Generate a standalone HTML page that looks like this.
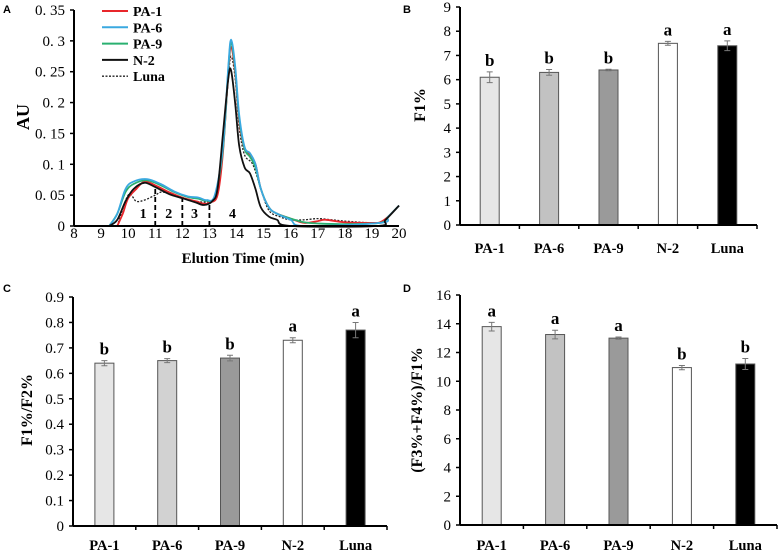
<!DOCTYPE html>
<html><head><meta charset="utf-8"><style>
body{margin:0;background:#fff;width:780px;height:551px;overflow:hidden}
svg text{font-family:"Liberation Serif",serif}
</style></head><body>
<svg id="fig" width="780" height="551" viewBox="0 0 780 551" xmlns="http://www.w3.org/2000/svg">
<g id="pa"></g>
<g id="pb"></g>
<g id="pc"></g>
<g id="pd"></g>
</svg>
<script>
const NS="http://www.w3.org/2000/svg";
// ---- Panel A data ----
const seriesNames=["PA-1","PA-6","PA-9","N-2","Luna"];
const seriesColors=["#e8262b","#3aa9e0","#2ab070","#111111","#222222"];
const pa1T=[9.6,9.8,10.0,10.3,10.6,11.0,11.5,12.0,12.5,12.8,13.0,13.3,13.5,13.7,13.8,13.95,14.1,14.3,14.5,14.7,14.9,15.2,15.5,16,16.5,17,17.3,18,19,19.3,19.6,20];
const pa1V=[0,0.02,0.045,0.06,0.072,0.066,0.055,0.046,0.04,0.036,0.038,0.05,0.12,0.25,0.29,0.25,0.17,0.125,0.115,0.1,0.06,0.03,0.02,0.012,0.005,0.008,0.01,0.006,0.005,0.006,0.015,0.033];
const pa6T=[9.3,9.6,9.9,10.2,10.7,11.2,11.7,12.2,12.6,12.9,13.2,13.5,13.7,13.8,13.95,14.1,14.3,14.5,14.7,14.9,15.2,15.5,16,16.5,19.3,19.6,20];
const pa6V=[0,0.02,0.06,0.072,0.076,0.068,0.056,0.048,0.046,0.042,0.05,0.13,0.26,0.302,0.26,0.18,0.128,0.118,0.1,0.06,0.03,0.02,0.01,0,0.005,0.015,0.033];
const pa9T=[9.3,9.6,9.9,10.2,10.7,11.2,11.7,12.2,12.6,12.9,13.2,13.5,13.7,13.8,13.95,14.1,14.3,14.5,14.7,14.9,15.2,15.5,16,16.5,17,18,19.3,19.6,20];
const pa9V=[0,0.02,0.055,0.068,0.074,0.066,0.055,0.047,0.044,0.041,0.048,0.125,0.255,0.297,0.255,0.175,0.125,0.112,0.095,0.06,0.03,0.02,0.012,0.006,0.004,0.003,0.005,0.015,0.033];
const n2T=[9.3,9.6,9.9,10.2,10.6,11,11.5,12,12.5,12.8,13.1,13.3,13.5,13.7,13.8,13.95,14.1,14.3,14.5,14.7,14.9,15.2,15.5,16,19.2,19.5,20];
const n2V=[0,0.01,0.04,0.06,0.07,0.063,0.052,0.045,0.038,0.034,0.04,0.06,0.15,0.24,0.252,0.2,0.13,0.095,0.085,0.06,0.03,0.015,0.01,0,0,0.01,0.033];
const lunaT=[9.6,10,10.3,10.6,11.0,11.3,12,12.5,13,13.3,13.5,13.7,13.8,13.95,14.1,14.3,14.6,14.9,15.2,15.6,16,16.5,17,17.5,18,19,19.3,19.6,20];
const lunaV=[0,0.05,0.04,0.042,0.05,0.055,0.046,0.04,0.04,0.055,0.13,0.24,0.275,0.24,0.16,0.115,0.1,0.06,0.025,0.015,0.01,0.01,0.012,0.01,0.008,0.005,0.006,0.015,0.033];
const seriesT=[pa1T,pa6T,pa9T,n2T,lunaT];
const seriesV=[pa1V,pa6V,pa9V,n2V,lunaV];
const aXTicks=[8,9,10,11,12,13,14,15,16,17,18,19,20];
const aYTicks=[0,0.05,0.1,0.15,0.2,0.25,0.3,0.35];
const aYLabels=["0","0. 05","0. 1","0. 15","0. 2","0. 25","0. 3","0. 35"];
const fracCuts=[11,12,13];
const fracCutTop=[0.062,0.048,0.040];
const fracLabels=["1","2","3","4"];
const fracLabelT=[10.55,11.5,12.45,13.85];
// ---- Bar data ----
const cats=["PA-1","PA-6","PA-9","N-2","Luna"];
const bVals=[6.1,6.3,6.4,7.5,7.4];
const bErr=[0.22,0.12,0.03,0.08,0.2];
const bSig=["b","b","b","a","a"];
const bTicks=[0,1,2,3,4,5,6,7,8,9];
const cVals=[0.64,0.65,0.66,0.73,0.77];
const cErr=[0.01,0.008,0.011,0.01,0.03];
const cSig=["b","b","b","a","a"];
const cTicks=[0,0.1,0.2,0.3,0.4,0.5,0.6,0.7,0.8,0.9];
const dVals=[13.8,13.25,13.0,10.95,11.2];
const dErr=[0.3,0.3,0.08,0.15,0.38];
const dSig=["a","a","a","b","b"];
const dTicks=[0,2,4,6,8,10,12,14,16];

function el(tag,attrs,parent,text){const e=document.createElementNS(NS,tag);for(const k in attrs)e.setAttribute(k,attrs[k]);if(text!==undefined)e.textContent=text;parent.appendChild(e);return e;}

function panelLetter(g,x,y,t){const e=el("text",{x:x,y:y,"font-size":11,"font-weight":"bold",style:"font-family:'Liberation Sans',sans-serif"},g,t);

}

// ---- Panel A ----
(function(){
const g=document.getElementById("pa");
const X0=74,X1=399,Y0=226,Y1=10;
const xs=t=>X0+(t-8)/12*(X1-X0);
const ys=v=>Y0-v/0.35*(Y0-Y1);
panelLetter(g,3,13,"A");
aYTicks.forEach((v,i)=>{
 const t=el("line",{x1:X0-4,x2:X0,y1:ys(v),y2:ys(v),stroke:"#000","stroke-width":1.5},g);
 
 const l=el("text",{x:X0-9,y:ys(v)+5,"text-anchor":"end","font-size":15},g,aYLabels[i]);
 
});
aXTicks.forEach(v=>{
 const l=el("text",{x:xs(v),y:238,"text-anchor":"middle","font-size":15},g,String(v));
 
});
fracCuts.forEach((c,i)=>{
 const d=el("line",{x1:xs(c),x2:xs(c),y1:Y0,y2:ys(fracCutTop[i]),stroke:"#000","stroke-width":1.8,"stroke-dasharray":"5,3"},g);
 
});
fracLabels.forEach((f,i)=>{
 const l=el("text",{x:xs(fracLabelT[i]),y:218,"text-anchor":"middle","font-size":14,"font-weight":"bold"},g,f);
 
});
function pathFor(T,V){
 const p=T.map((t,i)=>[xs(t),ys(V[i])]);
 let d="M"+p[0][0].toFixed(1)+","+p[0][1].toFixed(1);
 for(let i=0;i<p.length-1;i++){
  const p0=p[i-1]||p[i],p1=p[i],p2=p[i+1],p3=p[i+2]||p2;
  const c1=[p1[0]+(p2[0]-p0[0])/6,p1[1]+(p2[1]-p0[1])/6];
  const c2=[p2[0]-(p3[0]-p1[0])/6,p2[1]-(p3[1]-p1[1])/6];
  d+=" C"+c1.map(n=>n.toFixed(1))+" "+c2.map(n=>n.toFixed(1))+" "+p2.map(n=>n.toFixed(1));
 }
 return d;
}
[4,0,2,1,3].forEach(i=>{
 const a={d:pathFor(seriesT[i],seriesV[i]),fill:"none",stroke:seriesColors[i],"stroke-width":i===4?1.3:1.8};
 if(i===4)a["stroke-dasharray"]="2,1.5";
 const s=el("path",a,g);
 
 
});
el("line",{x1:X0,x2:X1,y1:Y0,y2:Y0,stroke:"#000","stroke-width":2},g);
el("line",{x1:X0,x2:X0,y1:Y1,y2:Y0,stroke:"#000","stroke-width":2},g);
seriesNames.forEach((n,i)=>{
 const y=11+i*16.3;
 const a={x1:102,x2:128,y1:y,y2:y,stroke:seriesColors[i],"stroke-width":i===4?1.3:2};
 if(i===4)a["stroke-dasharray"]="2,1.5";
 const ln=el("line",a,g);
 
 const t=el("text",{x:133,y:y+5,"font-size":14,"font-weight":"bold"},g,n);
 
});
const yt=el("text",{x:0,y:0,"font-size":18,"font-weight":"bold","text-anchor":"middle",transform:"translate(29,117) rotate(-90)"},g,"AU");

const xt=el("text",{x:243,y:263,"font-size":15,"font-weight":"bold","text-anchor":"middle"},g,"Elution Time (min)");

})();

// ---- Bar charts ----
const fills=["#e6e6e6","#c2c2c2","#9a9a9a","#ffffff","#000000"];
function barChart(id,letter,lx,ly,X0,X1,Y0,Y1,ymax,ticks,vals,errs,sigs,title,tx,ty,labY,fills2){
 const g=document.getElementById(id);
 panelLetter(g,lx,ly,letter);
 const ys=v=>Y0-v/ymax*(Y0-Y1);
 const cw=(X1-X0)/cats.length;
 ticks.forEach(v=>{
  const t=el("line",{x1:X0-4,x2:X0,y1:ys(v),y2:ys(v),stroke:"#000","stroke-width":1.5},g);
  
  const l=el("text",{x:X0-9,y:ys(v)+5,"text-anchor":"end","font-size":15},g,String(v));
  
 });
 for(let i=1;i<=cats.length;i++){
  const t=el("line",{x1:X0+i*cw,x2:X0+i*cw,y1:Y0,y2:Y0+4,stroke:"#000","stroke-width":1.5},g);
  
 }
 cats.forEach((c,i)=>{
  const cx=X0+(i+0.5)*cw, bw=19;
  const r=el("rect",{x:cx-bw/2,y:ys(vals[i]),width:bw,height:Y0-ys(vals[i]),fill:fills2[i],stroke:"#555","stroke-width":1},g);
  
  const et=ys(vals[i]+errs[i]),eb=ys(vals[i]-errs[i]);
  const e=el("path",{d:`M${cx},${et}V${eb}M${cx-3},${et}H${cx+3}M${cx-3},${eb}H${cx+3}`,stroke:"#777","stroke-width":1,fill:"none"},g);
  
  const s=el("text",{x:cx,y:et-6,"text-anchor":"middle","font-size":17,"font-weight":"bold"},g,sigs[i]);
  
  const l=el("text",{x:cx,y:labY,"text-anchor":"middle","font-size":14.5,"font-weight":"bold"},g,c);
  
 });
 el("line",{x1:X0,x2:X1,y1:Y0,y2:Y0,stroke:"#000","stroke-width":2},g);
 el("line",{x1:X0,x2:X0,y1:Y1,y2:Y0,stroke:"#000","stroke-width":2},g);
 const yt=el("text",{x:0,y:0,"font-size":16,"font-weight":"bold","text-anchor":"middle",transform:`translate(${tx},${ty}) rotate(-90)`},g,title);
 
}
barChart("pb","B",403,13,460,757,225,7,9,bTicks,bVals,bErr,bSig,"F1%",425,105,253,fills);
barChart("pc","C",3,292,73,387,526,297,0.9,cTicks,cVals,cErr,cSig,"F1%/F2%",32,410,550,["#e6e6e6","#d2d2d2","#9a9a9a","#ffffff","#000000"]);
barChart("pd","D",403,292,460,777,525,295,16,dTicks,dVals,dErr,dSig,"(F3%+F4%)/F1%",422,410,550,fills);
</script>
</body></html>
